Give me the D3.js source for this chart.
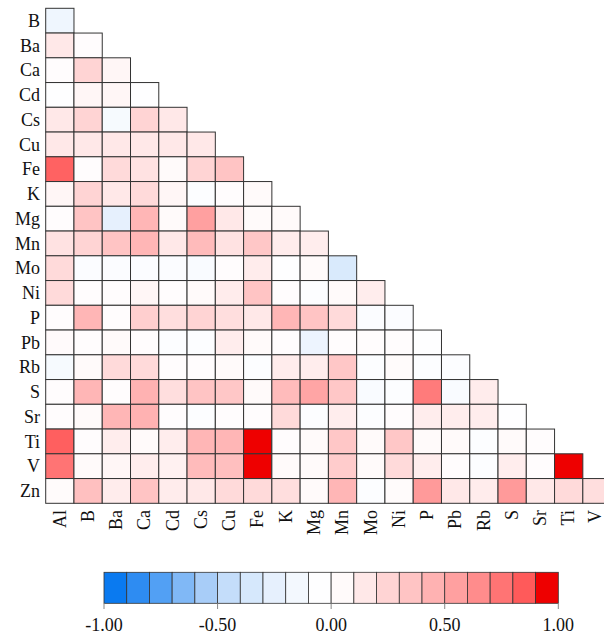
<!DOCTYPE html>
<html>
<head>
<meta charset="utf-8">
<script src="https://cdn.jsdelivr.net/npm/d3@7/dist/d3.min.js"></script>
<style>
  html, body { margin: 0; padding: 0; background: #fff; }
  svg { display: block; }
  text { font-family: "Liberation Serif", "Times New Roman", serif; fill: #111; }
</style>
</head>
<body>
<script>
// ---- data ----
const rowLabels = ["B","Ba","Ca","Cd","Cs","Cu","Fe","K","Mg","Mn","Mo","Ni","P","Pb","Rb","S","Sr","Ti","V","Zn"];
const colLabels = ["Al","B","Ba","Ca","Cd","Cs","Cu","Fe","K","Mg","Mn","Mo","Ni","P","Pb","Rb","S","Sr","Ti","V"];

const rB  = [-0.18];
const rBa = [0.15, 0.0];
const rCa = [0.0, 0.25, 0.07];
const rCd = [-0.05, 0.07, 0.07, -0.05];
const rCs = [0.15, 0.25, -0.12, 0.25, 0.15];
const rCu = [0.15, 0.15, 0.15, 0.15, 0.15, 0.15];
const rFe = [0.82, 0.0, 0.22, 0.18, 0.05, 0.25, 0.35];
const rK  = [0.07, 0.25, 0.15, 0.22, 0.07, -0.07, 0.0, 0.05];
const rMg = [0.0, 0.35, -0.25, 0.43, 0.05, 0.55, 0.15, 0.05, 0.05];
const rMn = [0.18, 0.25, 0.35, 0.43, 0.15, 0.4, 0.18, 0.33, 0.13, 0.12];
const rMo = [0.22, -0.08, -0.08, -0.08, -0.08, -0.1, 0.0, 0.13, -0.05, 0.05, -0.33];
const rNi = [0.22, 0.0, 0.0, 0.07, 0.0, 0.05, 0.13, 0.35, 0.0, -0.07, 0.05, 0.12];
const rP  = [0.0, 0.43, 0.0, 0.28, 0.2, 0.25, 0.2, 0.15, 0.43, 0.35, 0.22, -0.08, -0.08];
const rPb = [0.04, 0.0, 0.05, 0.0, -0.07, -0.07, 0.12, 0.05, 0.0, -0.2, 0.0, 0.0, 0.0, -0.05];
const rRb = [-0.12, 0.05, 0.22, 0.22, 0.0, 0.0, 0.05, -0.07, 0.13, 0.12, 0.33, -0.07, 0.03, -0.07, -0.07];
const rS  = [0.0, 0.43, 0.0, 0.45, 0.2, 0.35, 0.33, 0.05, 0.4, 0.52, 0.33, -0.1, -0.07, 0.72, -0.1, 0.13];
const rSr = [0.0, 0.05, 0.43, 0.45, 0.0, -0.07, 0.0, 0.0, 0.22, -0.07, 0.12, -0.07, 0.0, 0.12, 0.12, 0.12, -0.05];
const rTi = [0.83, 0.0, 0.12, 0.05, 0.12, 0.43, 0.43, 0.95, 0.0, 0.05, 0.33, 0.05, 0.33, 0.05, 0.05, -0.07, 0.05, 0.0];
const rV  = [0.75, 0.05, 0.07, 0.12, 0.1, 0.4, 0.38, 0.95, 0.05, 0.05, 0.3, 0.05, 0.22, 0.12, 0.0, -0.07, 0.12, 0.0, 0.95];
const rZn = [0.03, 0.37, 0.13, 0.35, 0.13, 0.15, 0.22, 0.22, 0.2, 0.05, 0.43, -0.07, 0.03, 0.58, 0.15, 0.13, 0.58, 0.15, 0.22, 0.2];
const matrixRows = [rB, rBa, rCa, rCd, rCs, rCu, rFe, rK, rMg, rMn, rMo, rNi, rP, rPb, rRb, rS, rSr, rTi, rV, rZn];

const legendColors = ["#0a7af0","#2e8cf2","#52a0f4","#80b8f6","#a8cdf8","#c4ddfa","#d6e8fc","#e6f0fd","#f3f8fe","#fefeff",
                      "#fffafa","#ffe8e8","#ffd4d4","#ffc4c4","#ffb2b2","#ffa0a0","#ff8c8c","#ff7474","#ff5a5a","#ee0000"];
const legendTicks = [-1, -0.5, 0, 0.5, 1];

// ---- layout ----
const W = 604, H = 637;
const svg = d3.select("body").append("svg").attr("width", W).attr("height", H);

const x = d3.scaleBand().domain(colLabels).range([45.7, 45.7 + 20 * 28.27]).padding(0);
const y = d3.scaleBand().domain(rowLabels).range([8.3, 503.3]).padding(0);

const centers = d3.range(20).map(i => -0.95 + i * 0.1);
const color = d3.scaleLinear().domain(centers).range(legendColors).clamp(true);

const cells = [];
matrixRows.forEach((vals, r) => vals.forEach((v, c) => cells.push({row: rowLabels[r], col: colLabels[c], v})));

svg.append("g").selectAll("rect").data(cells).join("rect")
  .attr("x", d => x(d.col)).attr("y", d => y(d.row))
  .attr("width", x.bandwidth()).attr("height", y.bandwidth())
  .attr("fill", d => color(d.v))
  .attr("stroke", "#333").attr("stroke-width", 1);

// y labels
svg.append("g").selectAll("text").data(rowLabels).join("text")
  .attr("x", 40).attr("y", d => y(d) + y.bandwidth() / 2)
  .attr("dy", "0.35em").attr("text-anchor", "end")
  .style("font-size", "18px").text(d => d);

// x labels (rotated)
svg.append("g").selectAll("text").data(colLabels).join("text")
  .attr("transform", d => `translate(${Math.min(x(d) + x.bandwidth() / 2, 595)},510) rotate(-90)`)
  .attr("dy", "0.32em").attr("text-anchor", "end")
  .style("font-size", "18px").text(d => d);

// ---- legend ----
const lx = d3.scaleLinear().domain([-1, 1]).range([104, 558.3]);
const bins = d3.range(20).map(i => ({a: -1 + i * 0.1, b: -0.9 + i * 0.1, c: legendColors[i]}));
const lg = svg.append("g");
lg.selectAll("rect").data(bins).join("rect")
  .attr("x", d => lx(d.a)).attr("y", 572.3)
  .attr("width", d => lx(d.b) - lx(d.a)).attr("height", 31)
  .attr("fill", d => d.c).attr("stroke", "#333").attr("stroke-width", 0.8);
lg.selectAll("line").data(legendTicks).join("line")
  .attr("x1", d => lx(d)).attr("x2", d => lx(d))
  .attr("y1", 603.3).attr("y2", 609)
  .attr("stroke", "#888").attr("stroke-width", 1);
lg.selectAll("text").data(legendTicks).join("text")
  .attr("x", d => lx(d)).attr("y", 631)
  .attr("text-anchor", "middle").style("font-size", "18px")
  .text(d => d3.format(".2f")(d).replace("\u2212", "-"));
</script>
</body>
</html>
